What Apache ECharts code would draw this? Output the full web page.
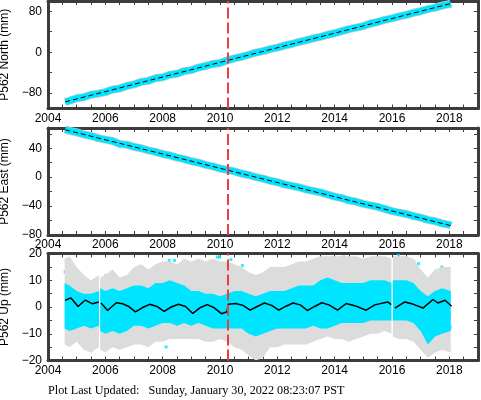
<!DOCTYPE html>
<html>
<head>
<meta charset="utf-8">
<script src="https://cdn.jsdelivr.net/npm/echarts@6/dist/echarts.min.js"></script>
<style>
  html, body { margin: 0; padding: 0; background: #fff; }
  #main { width: 481px; height: 400px; }
</style>
</head>
<body>
<div id="main"></div>
<script>
// axis labels
const yearLabels = [2004, 2006, 2008, 2010, 2012, 2014, 2016, 2018];
const northLabels = [-80, 0, 80];
const northTicks = [-80, -40, 0, 40, 80];
const eastLabels = [-80, -40, 0, 40];
const eastTicks = [-80, -60, -40, -20, 0, 20, 40, 60];
const upLabels = [-20, -10, 0, 10, 20];
const upTicks = [-20, -15, -10, -5, 0, 5, 10, 15, 20];
const quakeYear = 2010.26;

// north / east daily cloud, sampled every quarter year
const neT = [2004.6, 2004.75,
  2005, 2005.25, 2005.5, 2005.75, 2006, 2006.25, 2006.5, 2006.75,
  2007, 2007.25, 2007.5, 2007.75, 2008, 2008.25, 2008.5, 2008.75,
  2009, 2009.25, 2009.5, 2009.75, 2010, 2010.25, 2010.5, 2010.75,
  2011, 2011.25, 2011.5, 2011.75, 2012, 2012.25, 2012.5, 2012.75,
  2013, 2013.25, 2013.5, 2013.75, 2014, 2014.25, 2014.5, 2014.75,
  2015, 2015.25, 2015.5, 2015.75, 2016, 2016.25, 2016.5, 2016.75,
  2017, 2017.25, 2017.5, 2017.75, 2018, 2018.05];
const northV = [-97, -95,
  -90, -88, -83, -81, -78, -73, -71, -66,
  -63, -58, -56, -51, -49, -44, -42, -37,
  -35, -30, -27, -23, -21, -16, -12, -9,
  -5, -1, 2, 6, 9, 13, 16, 20,
  23, 27, 30, 34, 37, 41, 45, 48,
  51, 56, 59, 63, 66, 70, 73, 77,
  80, 84, 87, 91, 94, 95];
const eastV = [66, 64,
  62, 59, 57, 54, 52, 50, 46, 45,
  42, 40, 37, 35, 32, 30, 27, 25,
  22, 20, 17, 15, 12, 10, 8, 5,
  3, 0, -2, -5, -7, -10, -12, -14,
  -17, -19, -21, -24, -27, -29, -32, -34,
  -37, -39, -41, -44, -47, -49, -51, -54,
  -56, -59, -61, -64, -66, -67];
const modelT = [2004.6, 2018.05];
const northModel = [-97, 95];
const eastModel = [65.5, -67];

// up component: envelopes of error bars (gray) and dense points (cyan)
const upT = [2004.58, 2004.75, 2005, 2005.25, 2005.5, 2005.78, 2005.8,
  2005.82, 2006, 2006.25, 2006.5, 2006.75, 2007, 2007.25, 2007.5, 2007.75,
  2008, 2008.25, 2008.5, 2008.75, 2009, 2009.25, 2009.5, 2009.75,
  2010, 2010.25, 2010.5, 2010.75, 2011, 2011.25, 2011.5, 2011.75,
  2012, 2012.25, 2012.5, 2012.75, 2013, 2013.25, 2013.5, 2013.75,
  2014, 2014.25, 2014.5, 2014.75, 2015, 2015.25, 2015.5, 2015.75, 2015.98, 2016,
  2016.03, 2016.25, 2016.5, 2016.75, 2017, 2017.25, 2017.5, 2017.75, 2018.05];
const upGrayHi = [18, 19, 15, 12, 10, 12, null,
  11, 12, 14, 11, 12, 15, 16, 14, 16,
  17, 17, 16, 18, 17, 18, 17, 18,
  17, 17, 16, 15, 13, 12, 13, 15,
  15, 15, 16, 17, 17, 18, 19, 19,
  19, 19, 19, 19, 18, 19, 19, 19, 18, null,
  19, 19, 19, 18, 14, 11, 14, 15, 15];
const upGrayLo = [-14, -15, -13, -16, -17, -15, null,
  -16, -17, -15, -16, -15, -14, -14, -15, -13,
  -13, -12, -12, -12, -12, -12, -13, -13,
  -12, -13, -15, -16, -18, -20, -19, -15,
  -15, -14, -14, -14, -14, -13, -12, -11,
  -12, -12, -13, -12, -11, -10, -10, -9, -10, null,
  -11, -12, -12, -13, -16, -19, -17, -16, -17];
const upCyanHi = [9, 8, 6, 5, 5, 6, null,
  7, 6, 7, 6, 7, 8, 8, 7, 9,
  9, 10, 9, 8, 6, 6, 5, 5,
  4, 5, 6, 6, 5, 4, 5, 6,
  6, 6, 7, 8, 8, 8, 10, 11,
  10, 9, 9, 9, 9, 10, 10, 10, 9, null,
  10, 10, 10, 9, 6, 4, 6, 7, 6];
const upCyanLo = [-8, -9, -8, -7, -8, -7, null,
  -9, -10, -9, -10, -9, -7, -7, -8, -7,
  -6, -6, -7, -6, -7, -6, -7, -8,
  -8, -8, -8, -8, -10, -11, -10, -9,
  -8, -8, -8, -8, -8, -7, -8, -8,
  -7, -6, -6, -6, -6, -5, -5, -5, -5, null,
  -5, -5, -5, -6, -9, -14, -11, -10, -9];
// scattered cyan points outside the dense band
const upOutlierT = [2004.6, 2004.64, 2005.05, 2005.45, 2006.03, 2006.09, 2006.26, 2006.95,
  2007.3, 2007.36, 2007.42, 2007.71, 2007.77, 2007.85, 2008.12, 2008.23, 2008.41, 2008.52,
  2008.75, 2008.87, 2008.87, 2009.22, 2009.39, 2009.91, 2009.98, 2010.38, 2010.78, 2010.9,
  2011.36, 2011.54, 2011.6, 2011.71, 2011.77, 2012.69, 2013.05, 2013.22, 2013.28, 2013.7,
  2013.91, 2014.32, 2014.61, 2014.84, 2015.37, 2015.66, 2016.17, 2016.23, 2016.76, 2016.93,
  2017.33, 2017.74, 2017.91, 2018.03, 2005.7, 2006.6, 2009.6, 2012.2, 2014.1, 2015.9,
  2004.9, 2005.2, 2005.6, 2006.4, 2006.8, 2007.1, 2007.6, 2008.0, 2008.3, 2008.65,
  2009.1, 2009.45, 2009.8, 2010.1, 2010.6, 2011.1, 2011.25, 2011.9, 2012.4, 2012.9,
  2013.4, 2013.6, 2014.4, 2014.9, 2015.1, 2015.5, 2016.4, 2016.6, 2017.1, 2017.5];
const upOutlierV = [13.1, 13, -11.8, -13, 11.8, 8.7, 10, -12.4,
  11.8, 8.7, 12.4, -8.7, 14.7, 14, -14.9, 17.4, 17.4, -11.2,
  16.8, 13, -8, 14.9, 16.2, 18.7, 18.7, 17.7, 15.5, 12.4,
  -12.4, -12.4, -11, -11.2, 8.7, 12.5, -12.4, 16.2, 16.3, -8,
  -6.8, 18.7, -8.5, 17.4, 13, 18, 18, 19.3, 17, 16.2,
  -12.4, 14.9, -12, -7.5, -10, 9, -9, 10, 12, -7,
  10, -10, 8, -11, 9, -9, 10, 11, -8, 12,
  8, -9, 9, -10, 9, -12, 7, 9, -10, 10,
  11, -9, 12, -8, 12, -7, 13, -8, 8, -15];
const upModelT = [2004.6, 2004.8, 2005.05, 2005.3, 2005.55, 2005.77, 2005.8,
  2005.85, 2006.08, 2006.38, 2006.6, 2006.8, 2007.05, 2007.3, 2007.55, 2007.8,
  2008.05, 2008.3, 2008.55, 2008.8, 2009.05, 2009.3, 2009.55, 2009.8,
  2010.05, 2010.25, 2010.28, 2010.55, 2010.8, 2011.05, 2011.3, 2011.55, 2011.8,
  2012.05, 2012.3, 2012.55, 2012.8, 2013.05, 2013.3, 2013.55, 2013.8,
  2014.1, 2014.4, 2014.7, 2015.1, 2015.4, 2015.85, 2015.97, 2016,
  2016.1, 2016.45, 2016.75, 2017.08, 2017.43, 2017.6, 2017.85, 2018.08];
const upModelV = [2.5, 3.4, 0.2, 2.6, 1.2, 1.9, null,
  1.5, -1.3, 1.6, 1.2, 0.3, -1.8, -0.2, 1.0, 0.2,
  -1.6, 0, 1.0, 0.2, -2.4, -0.3, 0.9, -0.3,
  -2.5, -1.8, 1.0, 1.3, 0.6, -1.2, 0.2, 1.5, 0.6,
  -1.2, 0.3, 1.5, 0.8, -1.3, 0.2, 1.6, 0.8,
  -1.2, 1.3, 0.5, -1.2, 0.8, 1.9, 0.9, null,
  -0.4, 1.9, 1.0, -0.4, 2.8, 1.5, 2.5, 0.3];

const chart = echarts.init(document.getElementById("main"));

const halfYears = [];
for (let y = 2004; y <= 2019; y += 0.5) halfYears.push(y);

const frameColor = "#3c3c3c";
const cyan = "#00e5ff";
const labelFont = { fontSize: 12, color: "#000", fontFamily: "Liberation Sans" };

function pairs(t, v) {
  return t.map((x, i) => [x, v[i] == null ? "-" : v[i]]);
}
function plain(v) {
  return String(v).replace("-", "\u2212");
}

// two x axes per grid: bottom with labels, top with ticks only
function xAxes(gi) {
  const base = {
    gridIndex: gi,
    type: "value",
    min: 2004,
    max: 2019,
    axisLine: { show: true, onZero: false, lineStyle: { color: frameColor, width: 3 } },
    axisTick: { show: true, inside: true, length: 4, customValues: halfYears, lineStyle: { color: frameColor } },
    splitLine: { show: false }
  };
  return [
    Object.assign({}, base, {
      position: "bottom",
      axisLabel: Object.assign({ customValues: yearLabels, margin: 4, formatter: plain }, labelFont)
    }),
    Object.assign({}, base, { position: "top", axisLabel: { show: false } })
  ];
}
function yAxes(gi, min, max, labels, ticks, name) {
  const base = {
    gridIndex: gi,
    type: "value",
    min: min,
    max: max,
    axisLine: { show: true, onZero: false, lineStyle: { color: frameColor, width: 3 } },
    axisTick: { show: true, inside: true, length: 4, customValues: ticks, lineStyle: { color: frameColor } },
    splitLine: { show: false }
  };
  return [
    Object.assign({}, base, {
      position: "left",
      name: name,
      nameLocation: "middle",
      nameGap: 31,
      nameTextStyle: labelFont,
      axisLabel: Object.assign({ customValues: labels, margin: 6, formatter: plain }, labelFont)
    }),
    Object.assign({}, base, { position: "right", axisLabel: { show: false } })
  ];
}

const quakeLine = {
  silent: true,
  symbol: ["none", "none"],
  label: { show: false },
  lineStyle: { color: "#f03c3c", type: [11, 4], width: 2 },
  data: [{ xAxis: quakeYear }]
};

function bandSeries(ai, v, model) {
  return [
    {
      type: "line", xAxisIndex: ai, yAxisIndex: ai, data: pairs(neT, v),
      showSymbol: false, lineStyle: { color: "#c8c8c8", width: 8 }
    },
    {
      type: "line", xAxisIndex: ai, yAxisIndex: ai, data: pairs(neT, v),
      showSymbol: false, lineStyle: { color: cyan, width: 6.5 }
    },
    {
      type: "line", xAxisIndex: ai, yAxisIndex: ai, data: pairs(modelT, model),
      showSymbol: false, lineStyle: { color: "#000", width: 1, type: [5, 3] },
      markLine: quakeLine
    }
  ];
}
function areaSeries(v, color) {
  return {
    type: "line", xAxisIndex: 4, yAxisIndex: 4, data: pairs(upT, v),
    showSymbol: false, connectNulls: false,
    lineStyle: { width: 0 }, areaStyle: { color: color, opacity: 1 }
  };
}

chart.setOption({
  animation: false,
  grid: [
    { left: 48, right: 3, top: 1, height: 107.5, outerBoundsMode: "none", containLabel: false },
    { left: 48, right: 3, top: 128, height: 107, outerBoundsMode: "none", containLabel: false },
    { left: 48, right: 3, top: 253.5, height: 107, outerBoundsMode: "none", containLabel: false }
  ],
  xAxis: [].concat(xAxes(0), xAxes(1), xAxes(2)),
  yAxis: [].concat(
    yAxes(0, -110, 100, northLabels, northTicks, "P562 North (mm)"),
    yAxes(1, -80, 68, eastLabels, eastTicks, "P562 East (mm)"),
    yAxes(2, -20, 20, upLabels, upTicks, "P562 Up (mm)")
  ),
  series: [].concat(
    bandSeries(0, northV, northModel),
    bandSeries(2, eastV, eastModel),
    [
      areaSeries(upGrayHi, "#dcdcdc"),
      areaSeries(upGrayLo, "#dcdcdc"),
      areaSeries(upCyanHi, cyan),
      areaSeries(upCyanLo, cyan),
      {
        type: "scatter", xAxisIndex: 4, yAxisIndex: 4,
        data: pairs(upOutlierT, upOutlierV),
        symbol: "rect", symbolSize: 3, itemStyle: { color: cyan }
      },
      {
        type: "line", xAxisIndex: 4, yAxisIndex: 4, data: pairs(upModelT, upModelV),
        showSymbol: false, connectNulls: false,
        lineStyle: { color: "#000", width: 1.5 },
        markLine: quakeLine
      }
    ]
  ),
  graphic: [
    {
      type: "text", left: 48, top: 385,
      style: {
        text: "Plot Last Updated:   Sunday, January 30, 2022 08:23:07 PST",
        font: '12.2px "Liberation Serif"', fill: "#000"
      }
    }
  ]
});
</script>
</body>
</html>
